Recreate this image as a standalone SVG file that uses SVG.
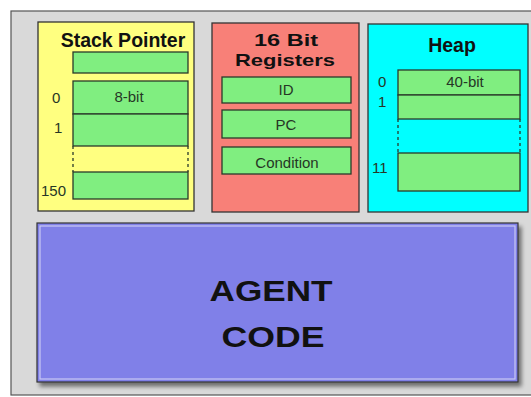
<svg xmlns="http://www.w3.org/2000/svg" width="531" height="397" viewBox="0 0 531 397">
<style>
.lbl{font-family:"Liberation Sans",Arial,sans-serif;font-size:15px;fill:#263626;}
.ttl{font-family:"Liberation Sans",Arial,sans-serif;font-size:19.5px;font-weight:bold;fill:#111;text-anchor:middle;}
.big{font-family:"Liberation Sans",Arial,sans-serif;font-size:29px;font-weight:bold;fill:#111;text-anchor:middle;}
.cell{fill:#80ee80;stroke:#2a3a2a;stroke-width:1.3;}
.box{stroke:#333;stroke-width:1.3;}
.dash{stroke:#2a3a2a;stroke-width:1.3;stroke-dasharray:3,3;}
.mid{text-anchor:middle;}
</style>
<defs>
<filter id="sh" x="-5%" y="-5%" width="115%" height="120%">
<feGaussianBlur in="SourceAlpha" stdDeviation="2"/>
<feOffset dx="3" dy="4"/>
<feComponentTransfer><feFuncA type="linear" slope="0.5"/></feComponentTransfer>
<feMerge><feMergeNode/><feMergeNode in="SourceGraphic"/></feMerge>
</filter>
</defs>
<rect width="531" height="397" fill="#ffffff"/>
<rect x="11" y="11" width="525" height="384" fill="#d9d9d9" stroke="#555" stroke-width="1.2"/>

<g id="stack-pointer">
<rect class="box" x="38" y="22" width="156" height="189" fill="#ffff80"/>
<text class="ttl" x="123" y="47">Stack Pointer</text>
<rect class="cell" x="73" y="52" width="115" height="21"/>
<rect class="cell" x="73" y="81" width="115" height="33"/>
<rect class="cell" x="73" y="114" width="115" height="32"/>
<line class="dash" x1="73" y1="146" x2="73" y2="172"/>
<line class="dash" x1="188" y1="146" x2="188" y2="172"/>
<rect class="cell" x="73" y="172" width="115" height="27"/>
<text class="lbl mid" x="129" y="102">8-bit</text>
<text class="lbl" x="52" y="103">0</text>
<text class="lbl" x="54" y="133">1</text>
<text class="lbl" x="41" y="196">150</text>
</g>

<g id="registers">
<rect class="box" x="212" y="23" width="147" height="189" fill="#f88078"/>
<text class="ttl" x="286" y="46" style="font-size:17px" textLength="64" lengthAdjust="spacingAndGlyphs">16 Bit</text>
<text class="ttl" x="285" y="66" style="font-size:17px" textLength="100" lengthAdjust="spacingAndGlyphs">Registers</text>
<rect class="cell" x="222" y="77" width="129" height="26"/>
<rect class="cell" x="222" y="110" width="129" height="28"/>
<rect class="cell" x="222" y="147" width="129" height="27"/>
<text class="lbl mid" x="286" y="95">ID</text>
<text class="lbl mid" x="286" y="130">PC</text>
<text class="lbl mid" x="287" y="168">Condition</text>
</g>

<g id="heap">
<rect class="box" x="368" y="24" width="160" height="188" fill="#00ffff"/>
<text class="ttl" x="452" y="52">Heap</text>
<rect class="cell" x="398" y="70" width="122" height="25"/>
<rect class="cell" x="398" y="95" width="122" height="24"/>
<line class="dash" x1="398" y1="119" x2="398" y2="153"/>
<line class="dash" x1="520" y1="119" x2="520" y2="153"/>
<rect class="cell" x="398" y="153" width="122" height="38"/>
<text class="lbl mid" x="465" y="87">40-bit</text>
<text class="lbl" x="378" y="87">0</text>
<text class="lbl" x="378" y="107">1</text>
<text class="lbl" x="372" y="173">11</text>
</g>

<g id="agent-code">
<rect x="37" y="223" width="481" height="159" fill="#8080e8" stroke="#333" stroke-width="1.2" filter="url(#sh)"/>
<rect x="40" y="226" width="475" height="153" fill="none" stroke="#c8c8f4" stroke-width="1.2"/>
<text class="big" x="271" y="301" textLength="123" lengthAdjust="spacingAndGlyphs">AGENT</text>
<text class="big" x="273" y="347" textLength="103" lengthAdjust="spacingAndGlyphs">CODE</text>
</g>

<g id="connectors"></g>
</svg>
